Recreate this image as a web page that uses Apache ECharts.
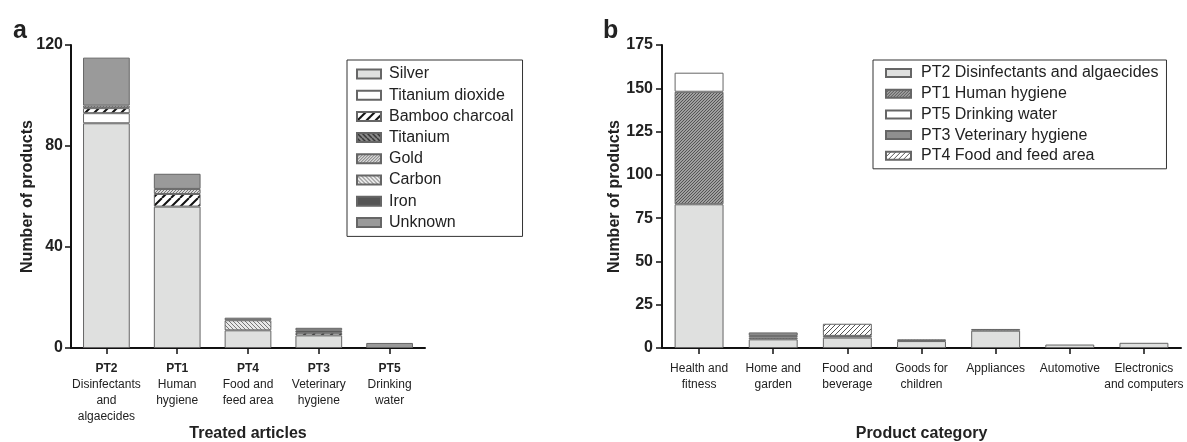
<!DOCTYPE html>
<html><head><meta charset="utf-8">
<script src="https://cdn.jsdelivr.net/npm/echarts@6/dist/echarts.min.js"></script>
<style>html,body{margin:0;padding:0;background:#fff}#c{width:1187px;height:442px}</style>
</head><body><div id="c"></div>
<script>
// ---- Panel a data ----
const catsA = ['PT2', 'PT1', 'PT4', 'PT3', 'PT5'];
const catsADesc = ['Disinfectants\nand\nalgaecides', 'Human\nhygiene', 'Food and\nfeed area', 'Veterinary\nhygiene', 'Drinking\nwater'];
const silver   = [89, 56, 7, 5, 0];
const tio2     = [4, 0, 0, 0, 0];
const bamboo   = [2, 5, 0, 1, 0];
const titanium = [0, 0, 0, 0, 0];
const gold     = [1, 2, 0, 0, 0];
const carbon   = [0, 0, 4, 0, 0];
const iron     = [0, 0, 0, 1, 0];
const unknown  = [19, 6, 1, 1, 2];
const ticksA = [0, 40, 80, 120];

// ---- Panel b data ----
const catsB = ['Health and\nfitness', 'Home and\ngarden', 'Food and\nbeverage', 'Goods for\nchildren', 'Appliances', 'Automotive', 'Electronics\nand computers'];
const pt2 = [83, 5, 6, 4, 10, 2, 3];
const pt1 = [65, 1, 1, 1, 1, 0, 0];
const pt5 = [11, 1, 0, 0, 0, 0, 0];
const pt3 = [0, 2, 0, 0, 0, 0, 0];
const pt4 = [0, 0, 7, 0, 0, 0, 0];
const ticksB = [0, 25, 50, 75, 100, 125, 150, 175];

const FONT = '"Liberation Sans", Arial, sans-serif';

function hatch(bg, fg, size, lw, dir) {
  const c = document.createElement('canvas');
  c.width = c.height = size;
  const g = c.getContext('2d');
  g.fillStyle = bg; g.fillRect(0, 0, size, size);
  g.strokeStyle = fg; g.lineWidth = lw; g.beginPath();
  for (const o of [-size, 0, size]) {
    if (dir > 0) { g.moveTo(o, size); g.lineTo(o + size, 0); }
    else { g.moveTo(o, 0); g.lineTo(o + size, size); }
  }
  g.stroke();
  return { image: c, repeat: 'repeat' };
}

const nz = arr => arr.map(v => v === 0 ? '-' : v);

const seriesA = [
  ['Silver', silver, '#dfe0df'],
  ['Titanium dioxide', tio2, '#ffffff'],
  ['Bamboo charcoal', bamboo, hatch('#ffffff', '#111', 9, 2, 1)],
  ['Titanium', titanium, hatch('#8a8a8a', '#333', 5, 1.5, -1)],
  ['Gold', gold, hatch('#d8d8d8', '#777', 3, 1, 1)],
  ['Carbon', carbon, hatch('#e8e8e8', '#777', 4, 1, -1)],
  ['Iron', iron, '#555555'],
  ['Unknown', unknown, '#9a9a9a']
];
const seriesB = [
  ['PT2 Disinfectants and algaecides', pt2, '#dfe0df'],
  ['PT1 Human hygiene', pt1, hatch('#a0a0a0', '#555', 3, 1, 1)],
  ['PT5 Drinking water', pt5, '#ffffff'],
  ['PT3 Veterinary hygiene', pt3, '#8f8f8f'],
  ['PT4 Food and feed area', pt4, hatch('#ffffff', '#555', 5, 1, 1)]
];

const series = [];
seriesA.forEach(([name, data, color]) => series.push({
  type: 'bar', name, data: nz(data), stack: 'a', xAxisIndex: 0, yAxisIndex: 0,
  barWidth: '66%', itemStyle: { color, borderColor: '#666', borderWidth: 1 }
}));
seriesB.forEach(([name, data, color]) => series.push({
  type: 'bar', name, data: nz(data), stack: 'b', xAxisIndex: 1, yAxisIndex: 1,
  barWidth: '66%', itemStyle: { color, borderColor: '#666', borderWidth: 1 }
}));

const axisLineStyle = { show: true, lineStyle: { color: '#111', width: 2 } };
const yAxisCommon = {
  type: 'value', min: 0,
  axisLine: axisLineStyle,
  axisTick: { show: true, length: 6, lineStyle: { color: '#111', width: 1.5 } },
  splitLine: { show: false },
  axisLabel: { fontFamily: FONT, fontSize: 16, fontWeight: 'bold', color: '#222', margin: 8 },
  name: 'Number of products', nameLocation: 'middle', nameMoveOverlap: false,
  nameTextStyle: { fontFamily: FONT, fontSize: 16, fontWeight: 'bold', color: '#222' }
};
const xAxisCommon = {
  type: 'category',
  axisLine: axisLineStyle,
  axisTick: { show: true, alignWithLabel: true, length: 6, lineStyle: { color: '#111', width: 1.5 } },
  nameLocation: 'middle', nameGap: 78, nameMoveOverlap: false,
  nameTextStyle: { fontFamily: FONT, fontSize: 16, fontWeight: 'bold', color: '#222' }
};

const option = {
  animation: false,
  title: [
    { text: 'a', left: 8, top: 14, textStyle: { fontFamily: FONT, fontSize: 25, fontWeight: 'bold', color: '#222' } },
    { text: 'b', left: 598, top: 14, textStyle: { fontFamily: FONT, fontSize: 25, fontWeight: 'bold', color: '#222' } }
  ],
  grid: [
    { left: 71, width: 354, top: 45, bottom: 94, outerBoundsMode: 'none', containLabel: false },
    { left: 662, width: 519, top: 45, bottom: 94, outerBoundsMode: 'none', containLabel: false }
  ],
  xAxis: [
    Object.assign({}, xAxisCommon, {
      gridIndex: 0, data: catsA, name: 'Treated articles',
      axisLabel: {
        interval: 0, margin: 13, fontFamily: FONT, fontSize: 12, lineHeight: 16, color: '#222',
        formatter: (v, i) => '{b|' + v + '}\n' + catsADesc[i],
        rich: { b: { fontFamily: FONT, fontSize: 12, fontWeight: 'bold', lineHeight: 16, color: '#222' } }
      }
    }),
    Object.assign({}, xAxisCommon, {
      gridIndex: 1, data: catsB, name: 'Product category',
      axisLabel: { interval: 0, margin: 13, fontFamily: FONT, fontSize: 12, lineHeight: 16, color: '#222' }
    })
  ],
  yAxis: [
    Object.assign({}, yAxisCommon, { gridIndex: 0, max: ticksA[ticksA.length - 1], interval: ticksA[1] - ticksA[0], nameGap: 35 }),
    Object.assign({}, yAxisCommon, { gridIndex: 1, max: ticksB[ticksB.length - 1], interval: ticksB[1] - ticksB[0], nameGap: 39,
      axisLabel: { fontFamily: FONT, fontSize: 16, fontWeight: 'bold', color: '#222', margin: 9 } })
  ],
  legend: [
    {
      data: seriesA.map(s => s[0]), orient: 'vertical', left: 347, top: 60,
      icon: 'rect', itemWidth: 24, itemHeight: 9, itemGap: 5.2,
      padding: [6, 9, 6, 9], borderColor: '#333', borderWidth: 1,
      selectedMode: false,
      textStyle: { fontFamily: FONT, fontSize: 16, lineHeight: 16, color: '#222', padding: [0, 0, 0, 3] }
    },
    {
      data: seriesB.map(s => s[0]), orient: 'vertical', left: 873, top: 60,
      icon: 'rect', itemWidth: 25, itemHeight: 8, itemGap: 4.7,
      padding: [5, 8, 5, 12], borderColor: '#333', borderWidth: 1,
      selectedMode: false,
      textStyle: { fontFamily: FONT, fontSize: 16, lineHeight: 16, color: '#222', padding: [0, 0, 0, 5] }
    }
  ],
  series
};
const chart = echarts.init(document.getElementById('c'), null, { renderer: 'canvas' });
chart.setOption(option);
</script>
</body></html>
